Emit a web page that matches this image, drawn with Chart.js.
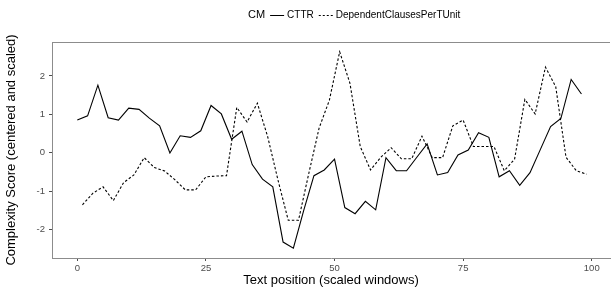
<!DOCTYPE html>
<html>
<head>
<meta charset="utf-8">
<script src="https://cdn.jsdelivr.net/npm/chart.js@4"></script>
<style>
  html, body { margin: 0; padding: 0; background: #fff; }
  #wrap { width: 611px; height: 288px; }
</style>
</head>
<body>
<div id="wrap"><canvas id="myChart" width="611" height="288"></canvas></div>
<script>
// data
var cttrX = [0, 2, 4, 6, 8, 10, 12, 14, 16, 18, 20, 22, 24, 26, 28, 30, 32, 34, 36, 38,
  40, 42, 44, 46, 48, 50, 52, 54, 56, 58, 60, 62, 64, 66, 68, 70, 72, 74, 76, 78,
  80, 82, 84, 86, 88, 90, 92, 94, 96, 98];
var cttrY = [0.85, 0.96, 1.76, 0.91, 0.85, 1.16, 1.13, 0.90, 0.70, -0.01, 0.44, 0.40, 0.57, 1.23, 1.01, 0.35, 0.56, -0.31, -0.69, -0.89,
  -2.33, -2.49, -1.51, -0.60, -0.45, -0.17, -1.43, -1.59, -1.27, -1.49, -0.13, -0.47, -0.47, -0.12, 0.23, -0.58, -0.52, -0.06, 0.07, 0.52,
  0.40, -0.63, -0.47, -0.85, -0.52, 0.08, 0.68, 0.89, 1.91, 1.53];
var depX = [1, 3, 5, 7, 9, 11, 13, 15, 17, 19, 21, 23, 25, 27, 29, 31, 33, 35, 37, 39,
  41, 43, 45, 47, 49, 51, 53, 55, 57, 59, 61, 63, 65, 67, 69, 71, 73, 75, 77, 79,
  81, 83, 85, 87, 89, 91, 93, 95, 97, 99];
var depY = [-1.36, -1.06, -0.89, -1.25, -0.78, -0.58, -0.13, -0.39, -0.48, -0.71, -0.97, -0.97, -0.63, -0.61, -0.60, 1.18, 0.80, 1.29, 0.42, -0.71,
  -1.76, -1.76, -0.54, 0.64, 1.37, 2.63, 1.81, 0.16, -0.45, -0.12, 0.13, -0.16, -0.16, 0.43, -0.13, -0.13, 0.70, 0.85, 0.16, 0.16,
  0.16, -0.47, -0.17, 1.39, 1.01, 2.23, 1.72, -0.12, -0.47, -0.56];
var xTicks = [0, 25, 50, 75, 100];
var yTicks = [-2, -1, 0, 1, 2];
var seriesNames = ['CTTR', 'DependentClausesPerTUnit'];
var legendTitle = 'CM';

function toPoints(xs, ys) {
  return xs.map(function (x, i) { return { x: x, y: ys[i] }; });
}

var FONT = "'Liberation Sans', Arial, sans-serif";

// legend drawn inline like ggplot (title + items on one row) and top panel border
var legendPlugin = {
  id: 'ggLegend',
  afterDraw: function (chart) {
    var ctx = chart.ctx;
    var a = chart.chartArea;
    ctx.save();
    ctx.strokeStyle = '#8c8c8c';
    ctx.lineWidth = 1;
    ctx.beginPath();
    ctx.moveTo(a.left, a.top + 0.5);
    ctx.lineTo(a.right, a.top + 0.5);
    ctx.stroke();

    var y = 15;
    ctx.textBaseline = 'middle';
    ctx.fillStyle = '#000';
    ctx.font = '11px ' + FONT;
    var wTitle = ctx.measureText(legendTitle).width;
    ctx.font = '10px ' + FONT;
    var w1 = ctx.measureText(seriesNames[0]).width;
    var key = 14, gap = 3, sep = 5;
    var x = 248;

    ctx.font = '11px ' + FONT;
    ctx.fillText(legendTitle, x, y);
    x += wTitle + sep;

    ctx.lineWidth = 1;
    ctx.strokeStyle = '#000';
    ctx.setLineDash([]);
    ctx.beginPath();
    ctx.moveTo(x, y + 0.5);
    ctx.lineTo(x + key, y + 0.5);
    ctx.stroke();
    x += key + gap;
    ctx.font = '10px ' + FONT;
    ctx.fillText(seriesNames[0], x, y);
    x += w1 + sep;

    ctx.setLineDash([2, 2]);
    ctx.beginPath();
    ctx.moveTo(x, y + 0.5);
    ctx.lineTo(x + key, y + 0.5);
    ctx.stroke();
    ctx.setLineDash([]);
    x += key + gap;
    ctx.fillText(seriesNames[1], x, y);
    ctx.restore();
  }
};

var ctx = document.getElementById('myChart').getContext('2d');
var myChart = new Chart(ctx, {
  type: 'scatter',
  data: {
    datasets: [
      {
        label: seriesNames[0],
        data: toPoints(cttrX, cttrY),
        showLine: true,
        borderColor: '#000',
        borderWidth: 1.1,
        pointRadius: 0,
        tension: 0
      },
      {
        label: seriesNames[1],
        data: toPoints(depX, depY),
        showLine: true,
        borderColor: '#000',
        borderWidth: 1.1,
        borderDash: [2.5, 2],
        pointRadius: 0,
        tension: 0
      }
    ]
  },
  options: {
    responsive: false,
    animation: false,
    layout: { padding: { top: 42, right: 1, bottom: 0, left: 0 } },
    plugins: {
      legend: { display: false },
      tooltip: { enabled: false }
    },
    scales: {
      x: {
        type: 'linear',
        min: -4.92,
        max: 103.55,
        afterBuildTicks: function (scale) {
          scale.ticks = xTicks.map(function (v) { return { value: v }; });
        },
        afterFit: function (scale) { scale.height = 30; },
        grid: { display: true, drawOnChartArea: false, tickLength: 3, color: '#4d4d4d' },
        border: { display: true, color: '#8c8c8c', width: 1 },
        ticks: {
          color: '#4d4d4d',
          font: { family: FONT, size: 9.5 },
          padding: 2,
          maxRotation: 0
        },
        title: {
          display: true,
          text: 'Text position (scaled windows)',
          color: '#000',
          font: { family: FONT, size: 13, lineHeight: 1.1 },
          padding: { top: 0, bottom: 0 }
        }
      },
      y: {
        min: -2.746,
        max: 2.886,
        afterBuildTicks: function (scale) {
          scale.ticks = yTicks.map(function (v) { return { value: v }; });
        },
        afterFit: function (scale) { scale.width = 52; },
        grid: { display: true, drawOnChartArea: false, tickLength: 3, color: '#4d4d4d' },
        border: { display: true, color: '#8c8c8c', width: 1 },
        ticks: {
          color: '#4d4d4d',
          font: { family: FONT, size: 9.5 },
          padding: 4
        },
        title: {
          display: true,
          text: 'Complexity Score (centered and scaled)',
          color: '#000',
          font: { family: FONT, size: 13, lineHeight: 1.1 },
          padding: { top: 4, bottom: 0 }
        }
      }
    }
  },
  plugins: [legendPlugin]
});
</script>
</body>
</html>
